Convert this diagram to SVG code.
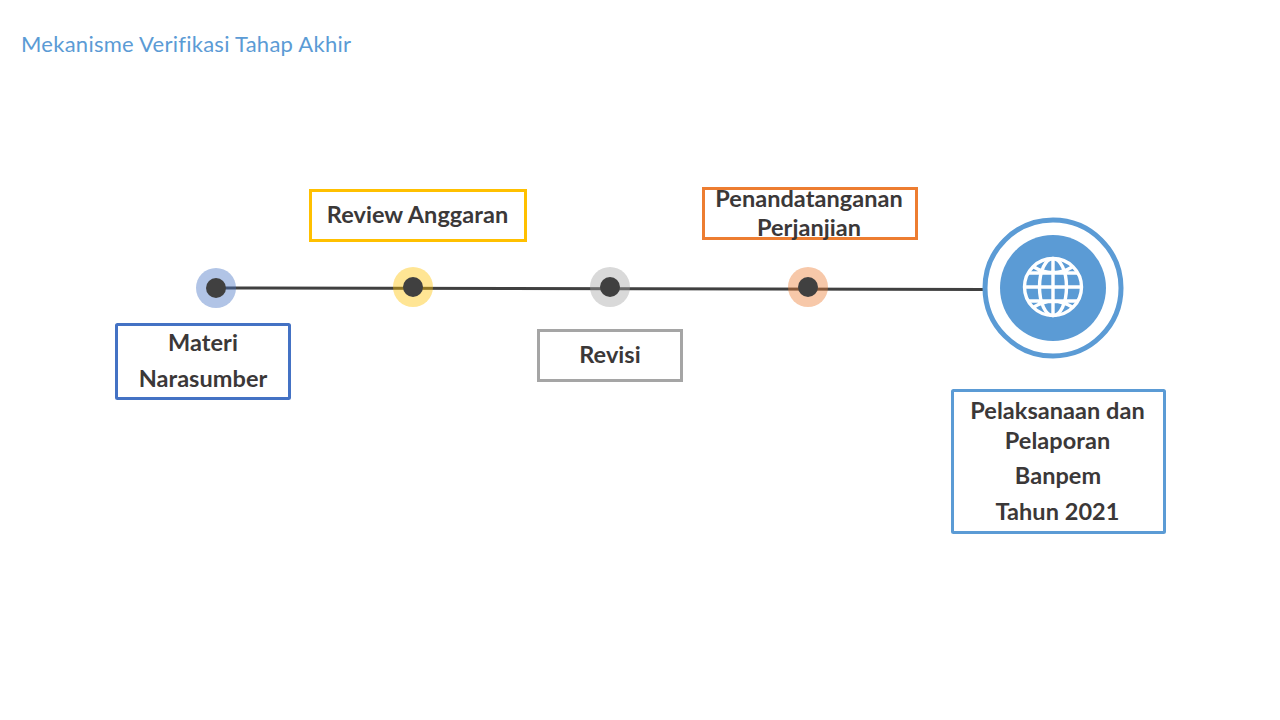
<svg xmlns="http://www.w3.org/2000/svg" width="1280" height="720" viewBox="0 0 1280 720">
<style>
text{font-family:Lato,"Open Sans","Liberation Sans",sans-serif}
.l{font-size:23.500px;font-weight:700;fill:#3b3838;text-anchor:middle;letter-spacing:.05px}
.b{fill:#fff;stroke-width:3}
.d{fill:#404040}
.h{fill-opacity:.42}
.g{fill:none;stroke:#fff;stroke-width:3.400}
</style>
<rect width="1280" height="720" fill="#fff"/>
<text id="title" x="21" y="52" font-size="22" letter-spacing=".26" fill="#5b9bd5">Mekanisme Verifikasi Tahap Akhir</text>
<g id="connectors"><path d="M216 288L984 289.500" fill="none" stroke="#404040" stroke-width="3"/></g>
<g id="dot1"><circle cx="216" cy="288" r="20" class="h" fill="#4472c4"/><circle cx="216" cy="288" r="10" class="d"/></g>
<g id="dot2"><circle cx="413" cy="287" r="20" class="h" fill="#ffc000"/><circle cx="413" cy="287" r="10" class="d"/></g>
<g id="dot3"><circle cx="610" cy="287" r="20" class="h" fill="#a5a5a5"/><circle cx="610" cy="287" r="10" class="d"/></g>
<g id="dot4"><circle cx="808" cy="287" r="20" class="h" fill="#ed7d31"/><circle cx="808" cy="287" r="10" class="d"/></g>
<g id="n1"><rect x="116.500" y="324.500" width="173" height="74" rx="1" class="b" stroke="#4472c4"/><text x="203" y="351" class="l">Materi</text><text x="203" y="387" class="l">Narasumber</text></g>
<g id="n2"><rect x="310.500" y="190.500" width="215" height="50" class="b" stroke="#ffc000"/><text x="417.500" y="223" class="l">Review Anggaran</text></g>
<g id="n3"><rect x="538.500" y="330.500" width="143" height="50" class="b" stroke="#a5a5a5"/><text x="610" y="363" class="l">Revisi</text></g>
<g id="n4"><rect x="703.500" y="188.500" width="213" height="50" class="b" stroke="#ed7d31"/><text x="809" y="207" class="l">Penandatanganan</text><text x="809" y="236" class="l">Perjanjian</text></g>
<g id="n5"><rect x="952.500" y="390.500" width="212" height="142" rx="1" class="b" stroke="#5b9bd5"/><text x="1057.500" y="419" class="l">Pelaksanaan dan</text><text x="1057.500" y="449" class="l">Pelaporan</text><text x="1058" y="484" class="l">Banpem</text><text x="1057.500" y="520" class="l">Tahun 2021</text></g>
<g id="globe">
<circle cx="1053" cy="288" r="68" fill="#fff" stroke="#5b9bd5" stroke-width="5"/>
<circle cx="1053" cy="288" r="53" fill="#5b9bd5"/>
<circle cx="1053" cy="287" r="28.500" class="g"/>
<ellipse cx="1053" cy="287" rx="13.500" ry="28.500" class="g"/>
<path d="M1053 258.500V315.500M1024.500 287H1081.500M1028 273H1078M1028 301H1078M1033 266.500Q1053 279 1073 266.500M1033 307.500Q1053 295 1073 307.500" class="g"/>
</g>
</svg>
